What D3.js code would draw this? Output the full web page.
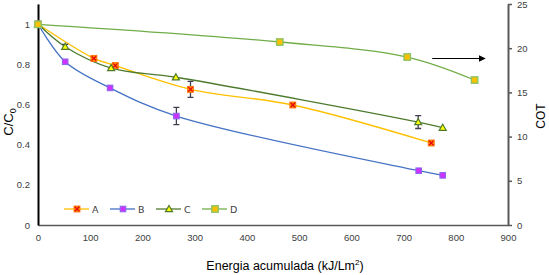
<!DOCTYPE html>
<html>
<head>
<meta charset="utf-8">
<script src="https://cdn.jsdelivr.net/npm/d3@7"></script>
<style>
    body { margin: 0; background: #ffffff; }
</style>
</head>
<body>
<div id="graph"></div>
<script>

// Données
const energiaA = [0, 107, 148, 292, 488, 753];
const valA = [1, 0.829, 0.793, 0.675, 0.597, 0.408];
const errA = [0, 0, 0, 0.04, 0, 0];

const energiaB = [0, 52, 138, 265, 729, 775];
const valB = [1, 0.812, 0.682, 0.542, 0.270, 0.247];
const errB = [0, 0, 0, 0.043, 0, 0];

const energiaC = [0, 52, 140, 264, 728, 775];
const valC = [1, 0.887, 0.781, 0.735, 0.512, 0.484];
const errC = [0, 0.012, 0, 0, 0.032, 0];

// série D sur l'axe de droite (COT)
const energiaD = [0, 463, 707, 836];
const cotD = [22.7, 20.7, 19.0, 16.4];

const xTicks = [0, 100, 200, 300, 400, 500, 600, 700, 800, 900];
const yLeftTicks = [0, 0.2, 0.4, 0.6, 0.8, 1];
const yRightTicks = [0, 5, 10, 15, 20, 25];
const seriesNames = ["A", "B", "C", "D"];

//---------------------------------------------------------------------------------------

const width = 549;
const height = 275;

const svg = d3.select("#graph")
    .append("svg")
    .attr("width", width)
    .attr("height", height)
    .style("font-family", "'DejaVu Sans', Verdana, sans-serif");

// échelles
const scaleX = d3.scaleLinear().domain([0, 900]).range([38, 508]);
const scaleYL = d3.scaleLinear().domain([0, 1.1]).range([225, 3.9]);
const scaleYR = d3.scaleLinear().domain([0, 25]).range([225, 4]);

// styles par série
const styles = {
    A: { line: "#FFC000", marker: "xsquare" },
    B: { line: "#4472C4", marker: "square" },
    C: { line: "#4E7A2E", marker: "triangle" },
    D: { line: "#70AD47", marker: "dsquare" }
};

//---------------------------------------------------------------------------------------

// Axe X
svg.append("g")
    .attr("transform", "translate(0, 225)")
    .call(d3.axisBottom(scaleX).tickValues(xTicks).tickSize(0).tickPadding(9))
    .call(g => g.select(".domain").attr("stroke", "#595959").attr("stroke-width", 1.5))
    .call(g => g.selectAll("text").attr("font-size", "9.5px").attr("fill", "#404040").attr("font-family", null));

// Axe Y gauche
svg.append("g")
    .attr("transform", "translate(38, 0)")
    .call(d3.axisLeft(scaleYL).tickValues(yLeftTicks).tickSize(0).tickPadding(8)
        .tickFormat(d => d === 0 ? "0" : d === 1 ? "1" : d3.format(".1f")(d)))
    .call(g => g.select(".domain").attr("stroke", "#000000").attr("stroke-width", 2))
    .call(g => g.selectAll("text").attr("font-size", "9.5px").attr("fill", "#404040").attr("font-family", null));

// Axe Y droite
svg.append("g")
    .attr("transform", "translate(508, 0)")
    .call(d3.axisRight(scaleYR).tickValues(yRightTicks).tickSizeInner(4).tickSizeOuter(0).tickPadding(5))
    .call(g => g.select(".domain").attr("stroke", "#595959").attr("stroke-width", 2))
    .call(g => g.selectAll(".tick line").attr("stroke", "#595959").attr("stroke-width", 1.5))
    .call(g => g.selectAll("text").attr("font-size", "9.5px").attr("fill", "#404040").attr("font-family", null));

// Titres des axes
svg.append("text")
    .attr("x", 285)
    .attr("y", 270)
    .attr("text-anchor", "middle")
    .attr("font-family", "'Liberation Sans', Arial, sans-serif")
    .attr("font-size", "12.5px")
    .attr("fill", "#000")
    .text("Energia acumulada (kJ/Lm")
    .append("tspan").attr("font-size", "8px").attr("dy", -5).text("2")
    .select(function () { return this.parentNode; })
    .append("tspan").attr("dy", 5).text(")");

svg.append("text")
    .attr("transform", "translate(13, 122) rotate(-90)")
    .attr("text-anchor", "middle")
    .attr("font-family", "'Liberation Sans', Arial, sans-serif")
    .attr("font-size", "13px")
    .attr("fill", "#000")
    .text("C/C")
    .append("tspan").attr("font-size", "9px").attr("dy", 3).text("0");

svg.append("text")
    .attr("transform", "translate(545, 116) rotate(-90)")
    .attr("text-anchor", "middle")
    .attr("font-family", "'Liberation Sans', Arial, sans-serif")
    .attr("font-size", "12px")
    .attr("fill", "#000")
    .text("COT");

//---------------------------------------------------------------------------------------

// Données mises en forme
const series = [
    { name: "A", axis: "L", pts: energiaA.map((e, i) => ({ x: e, y: valA[i], err: errA[i] })) },
    { name: "B", axis: "L", pts: energiaB.map((e, i) => ({ x: e, y: valB[i], err: errB[i] })) },
    { name: "C", axis: "L", pts: energiaC.map((e, i) => ({ x: e, y: valC[i], err: errC[i] })) },
    { name: "D", axis: "R", pts: energiaD.map((e, i) => ({ x: e, y: cotD[i], err: 0 })) }
];

// dessin d'un marqueur selon le type
function drawMarker(g, type) {
    if (type === "xsquare") {
        g.append("rect").attr("x", -3).attr("y", -3).attr("width", 6).attr("height", 6)
            .attr("fill", "#FF9900").attr("stroke", "#FF6600").attr("stroke-width", 0.8);
        g.append("path").attr("d", "M-2.2,-2.2L2.2,2.2M-2.2,2.2L2.2,-2.2")
            .attr("stroke", "#E8000B").attr("stroke-width", 1.3);
    } else if (type === "square") {
        g.append("rect").attr("x", -2.8).attr("y", -2.8).attr("width", 5.6).attr("height", 5.6)
            .attr("fill", "#CC33FF").attr("stroke", "#8866EE").attr("stroke-width", 1);
    } else if (type === "triangle") {
        g.append("path").attr("d", "M0,-3.5L3.5,2.6L-3.5,2.6Z")
            .attr("fill", "#FFFF00").attr("stroke", "#4E7A2E").attr("stroke-width", 1.2);
    } else if (type === "dsquare") {
        g.append("rect").attr("x", -3.2).attr("y", -3.2).attr("width", 6.4).attr("height", 6.4)
            .attr("fill", "#FFC000").attr("stroke", "#8CC464").attr("stroke-width", 1.4);
    }
}

const plot = svg.append("g");

series.forEach(s => {
    const sy = s.axis === "L" ? scaleYL : scaleYR;

    const lineGenerator = d3.line()
        .x(d => scaleX(d.x))
        .y(d => sy(d.y))
        .curve(d3.curveCatmullRom.alpha(0.5));

    plot.append("path")
        .attr("d", lineGenerator(s.pts))
        .attr("fill", "none")
        .attr("stroke", styles[s.name].line)
        .attr("stroke-width", 1.3);
});

// barres d'erreur
series.forEach(s => {
    const sy = s.axis === "L" ? scaleYL : scaleYR;
    s.pts.filter(d => d.err > 0).forEach(d => {
        const cx = scaleX(d.x);
        const y1 = sy(d.y - d.err);
        const y2 = sy(d.y + d.err);
        plot.append("path")
            .attr("d", `M${cx},${y1}L${cx},${y2}M${cx - 3},${y1}L${cx + 3},${y1}M${cx - 3},${y2}L${cx + 3},${y2}`)
            .attr("stroke", "#3F3F4F")
            .attr("stroke-width", 1.3)
            .attr("fill", "none");
    });
});

// marqueurs
series.forEach(s => {
    const sy = s.axis === "L" ? scaleYL : scaleYR;
    s.pts.forEach(d => {
        const g = plot.append("g").attr("transform", `translate(${scaleX(d.x)}, ${sy(d.y)})`);
        drawMarker(g, styles[s.name].marker);
    });
});

// flèche vers l'axe de droite
svg.append("defs").append("marker")
    .attr("id", "arrow")
    .attr("viewBox", "0 0 10 10")
    .attr("refX", 9).attr("refY", 5)
    .attr("markerWidth", 7).attr("markerHeight", 7)
    .attr("markerUnits", "userSpaceOnUse")
    .attr("orient", "auto")
    .append("path").attr("d", "M0,0L10,5L0,10Z").attr("fill", "#000");

svg.append("line")
    .attr("x1", scaleX(755)).attr("y1", 58.5)
    .attr("x2", scaleX(856)).attr("y2", 58.5)
    .attr("stroke", "#000")
    .attr("stroke-width", 1)
    .attr("marker-end", "url(#arrow)");

//---------------------------------------------------------------------------------------

// Légende
const legend = svg.selectAll(".legend")
    .data(seriesNames)
    .join("g")
    .attr("class", "legend")
    .attr("transform", (d, i) => `translate(${64 + i * 46}, 209)`);

legend.append("line")
    .attr("x1", 0).attr("x2", 25)
    .attr("stroke", d => styles[d].line)
    .attr("stroke-width", 1.3);

legend.append("g")
    .attr("transform", "translate(13, 0)")
    .each(function (d) { drawMarker(d3.select(this), styles[d].marker); });

legend.append("text")
    .attr("x", 28)
    .attr("y", 3.5)
    .attr("font-size", "9.5px")
    .attr("fill", "#404040")
    .text(d => d);

</script>
</body>
</html>
